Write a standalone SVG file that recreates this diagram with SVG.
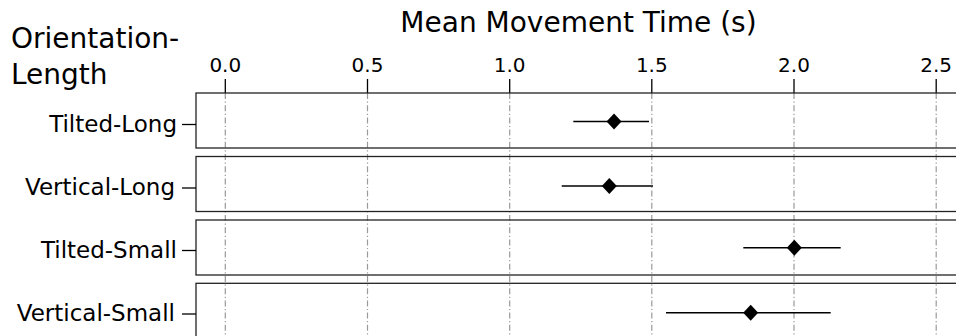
<svg xmlns="http://www.w3.org/2000/svg" width="956" height="336" viewBox="0 0 956 336">
<style>
text{font-family:"DejaVu Sans","Liberation Sans",sans-serif;fill:#000}
.title{font-size:28px}
.tick{font-size:20px;text-anchor:middle}
.lab{font-size:23px;text-anchor:end}
.panel{fill:none;stroke:#222;stroke-width:1.3}
.grid{stroke:#9a9a9a;stroke-width:1.2;stroke-dasharray:6 2.5 1.2 2.5;fill:none}
.tk{stroke:#000;stroke-width:1.3}
.bar{stroke:#000;stroke-width:1.5}
.dia{fill:#000}
</style>
<defs>
<polygon id="d" points="0,-8 7.5,0 0,8 -7.5,0"/>
</defs>
<rect width="956" height="336" fill="#fff"/>
<text class="title" x="578.5" y="31.5" text-anchor="middle">Mean Movement Time (s)</text>
<text class="title" x="11" y="47.5">Orientation-</text>
<text class="title" x="11" y="83.5">Length</text>
<g id="axis">
<text class="tick" x="225.3" y="71.5">0.0</text>
<text class="tick" x="367.5" y="71.5">0.5</text>
<text class="tick" x="509.7" y="71.5">1.0</text>
<text class="tick" x="651.8" y="71.5">1.5</text>
<text class="tick" x="794" y="71.5">2.0</text>
<text class="tick" x="936.2" y="71.5">2.5</text>
<path class="tk" d="M225.3 79V93M367.5 79V93M509.7 79V93M651.8 79V93M794 79V93M936.2 79V93"/>
</g>
<g id="connectors">
<path class="grid" d="M225.3 93V336M367.5 93V336M509.7 93V336M651.8 93V336M794 93V336M936.2 93V336"/>
</g>
<g id="tilted-long">
<rect class="panel" x="196" y="93" width="790" height="55"/>
<text class="lab" x="177" y="131.5">Tilted-Long</text>
<path class="tk" d="M182 124.5H196"/>
<path class="bar" d="M573.3 121.5H649"/>
<use href="#d" x="614" y="121.5" class="dia"/>
</g>
<g id="vertical-long">
<rect class="panel" x="196" y="156.5" width="790" height="55"/>
<text class="lab" x="175" y="195">Vertical-Long</text>
<path class="tk" d="M182 188H196"/>
<path class="bar" d="M561.7 186H653"/>
<use href="#d" x="609.3" y="186" class="dia"/>
</g>
<g id="tilted-small">
<rect class="panel" x="196" y="220" width="790" height="55"/>
<text class="lab" x="177" y="257.7">Tilted-Small</text>
<path class="tk" d="M182 250.5H196"/>
<path class="bar" d="M743.3 247.7H840.7"/>
<use href="#d" x="794.3" y="247.7" class="dia"/>
</g>
<g id="vertical-small">
<rect class="panel" x="196" y="283.3" width="790" height="55"/>
<text class="lab" x="175" y="321">Vertical-Small</text>
<path class="tk" d="M182 314H196"/>
<path class="bar" d="M666 312.7H830.7"/>
<use href="#d" x="750.7" y="312.7" class="dia"/>
</g>
</svg>
